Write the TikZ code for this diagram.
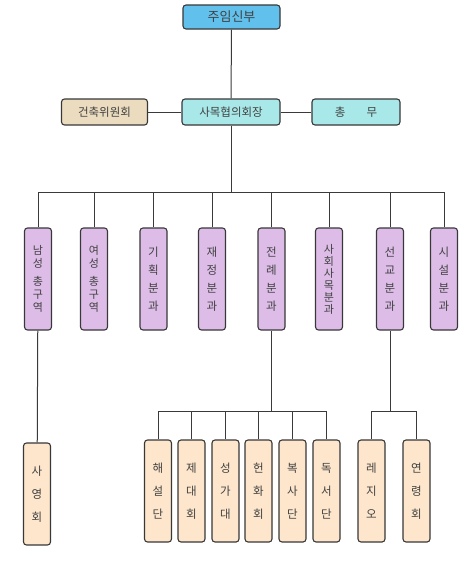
\documentclass[tikz,border=0pt]{standalone}
\usepackage{fontspec}
\newfontfamily\kr{Noto Sans CJK KR}
\definecolor{cblue}{HTML}{62C0EC}
\definecolor{ccyan}{HTML}{A9E8E8}
\definecolor{ctan}{HTML}{EBDCC0}
\definecolor{cpurple}{HTML}{DDBDE8}
\definecolor{cpeach}{HTML}{FDE6CC}
\definecolor{boxline}{HTML}{383838}
\definecolor{linec}{HTML}{3A3A3A}
\definecolor{txt}{HTML}{404040}
\begin{document}
\begin{tikzpicture}[x=1pt,y=-1pt,
  box/.style={draw=boxline, line width=1.1pt, rounded corners=3pt, inner sep=0pt, text=txt, font=\kr\fontsize{11.5}{13}\selectfont},
  hbox/.style={box, minimum height=25pt},
  vbox/.style={box, minimum width=27pt, minimum height=102pt, align=center},
  pbox/.style={vbox, fill=cpurple},
  obox/.style={vbox, fill=cpeach}]
\tikzset{link/.style={draw=linec, line width=1pt}}
\useasboundingbox (0,0) rectangle (476,573);
% top
\node[hbox, fill=cblue, minimum width=97pt, minimum height=24pt, font=\kr\fontsize{13}{15}\selectfont] (top) at (231.5,17) {주임신부};
\node[hbox, fill=ccyan, minimum width=98pt, minimum height=26pt] (mid) at (231,112) {사목협의회장};
\node[hbox, fill=ctan, minimum width=86pt, minimum height=26pt] (kb) at (104.5,112) {건축위원회};
\node[hbox, fill=ccyan, minimum width=88pt, minimum height=26pt] (cm) at (356,112) {총\hspace{21pt}무};
% purple row
\node[pbox, font=\kr\fontsize{11}{13}\selectfont] (p1) at (38,279) {남\\성\\[5pt]총\\구\\역};
\node[pbox, font=\kr\fontsize{11}{13}\selectfont] (p2) at (94,279) {여\\성\\[5pt]총\\구\\역};
\node[pbox, font=\kr\fontsize{11.5}{18}\selectfont] (p3) at (153.5,279) {기\\획\\분\\과};
\node[pbox, font=\kr\fontsize{11.5}{18}\selectfont] (p4) at (212,279) {재\\정\\분\\과};
\node[pbox, font=\kr\fontsize{11.5}{18}\selectfont] (p5) at (271.5,279) {전\\례\\분\\과};
\node[pbox, font=\kr\fontsize{11}{12}\selectfont] (p6) at (329,279) {사\\회\\사\\목\\분\\과};
\node[pbox, font=\kr\fontsize{11.5}{18}\selectfont] (p7) at (390,279) {선\\교\\분\\과};
\node[pbox, font=\kr\fontsize{11.5}{18}\selectfont] (p8) at (444,279) {시\\설\\분\\과};
% bottom row
\node[obox, font=\kr\fontsize{11.5}{23}\selectfont] (s1) at (37,494) {사\\영\\회};
\node[obox, font=\kr\fontsize{11.5}{23}\selectfont] (c1) at (158,491) {해\\설\\단};
\node[obox, font=\kr\fontsize{11.5}{23}\selectfont] (c2) at (191.5,491) {제\\대\\회};
\node[obox, font=\kr\fontsize{11.5}{23}\selectfont] (c3) at (225.5,491) {성\\가\\대};
\node[obox, font=\kr\fontsize{11.5}{23}\selectfont] (c4) at (258.5,491) {헌\\화\\회};
\node[obox, font=\kr\fontsize{11.5}{23}\selectfont] (c5) at (292.5,491) {복\\사\\단};
\node[obox, font=\kr\fontsize{11.5}{23}\selectfont] (c6) at (326.5,491) {독\\서\\단};
\node[obox, font=\kr\fontsize{11.5}{23}\selectfont] (d1) at (371.5,491) {레\\지\\오};
\node[obox, font=\kr\fontsize{11.5}{23}\selectfont] (d2) at (416.5,491) {연\\령\\회};
% connectors
\draw[link] (top) -- (mid);
\draw[link] (kb) -- (mid);
\draw[link] (mid) -- (cm);
\coordinate (b1) at (231,192);
\draw[link] (mid.south) -- (b1);
\foreach \n in {p1,p2,p3,p4,p5,p6,p7,p8} \draw[link] (b1) -| (\n.north);
\draw[link] (p1) -- (s1);
\coordinate (b2) at (271.5,411);
\draw[link] (p5.south) -- (b2);
\foreach \n in {c1,c2,c3,c4,c5,c6} \draw[link] (b2) -| (\n.north);
\coordinate (b3) at (390,411);
\draw[link] (p7.south) -- (b3);
\foreach \n in {d1,d2} \draw[link] (b3) -| (\n.north);
\end{tikzpicture}
\end{document}
